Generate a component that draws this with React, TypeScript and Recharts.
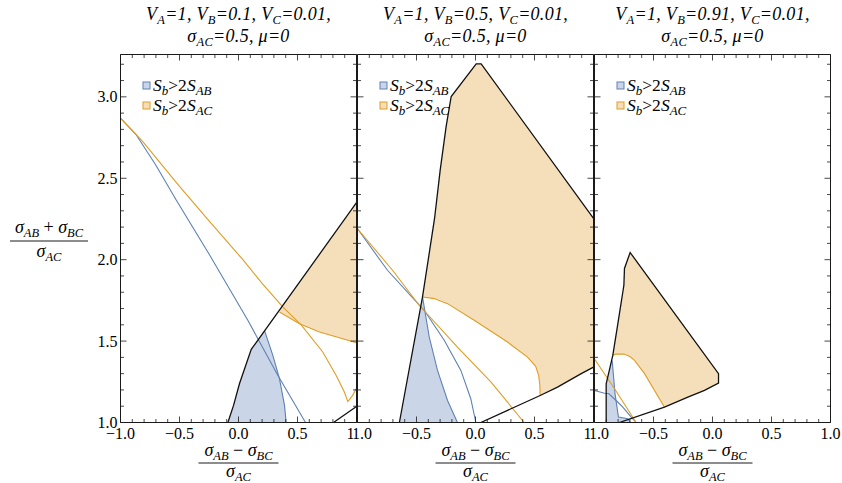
import React from 'react';
import { ComposedChart, Area, Line, XAxis, YAxis, Legend } from 'recharts';

// ---------- data ----------
const X_TICKS = [-1, -0.9, -0.8, -0.7, -0.6, -0.5, -0.4, -0.3, -0.2, -0.1, 0, 0.1, 0.2, 0.3, 0.4, 0.5, 0.6, 0.7, 0.8, 0.9, 1];
const Y_TICKS = [1, 1.1, 1.2, 1.3, 1.4, 1.5, 1.6, 1.7, 1.8, 1.9, 2, 2.1, 2.2, 2.3, 2.4, 2.5, 2.6, 2.7, 2.8, 2.9, 3, 3.1, 3.2];
const X_DOMAIN: [number, number] = [-1, 1];
const Y_DOMAIN: [number, number] = [1, 3.26];
const V_B_LABELS = ['0.1', '0.5', '0.91'];
const LEGEND_SUBS = ['AB', 'AC'];

type Pt = [number, number];
type Rg = [number, number, number];

// Panel 1 (V_B = 0.1)
const P1_BLUE_REGION: Rg[] = [[-0.09, 1, 1], [-0.042, 1, 1.105], [0.008, 1, 1.238], [0.108, 1, 1.449], [0.22, 1, 1.566], [0.291, 1, 1.412], [0.347, 1, 1.269], [0.39, 1, 1.105], [0.404, 1, 1]];
const P1_ORANGE_REGION: Rg[] = [[0.347, 1.682, 1.69], [0.517, 1.607, 1.862], [0.686, 1.556, 2.033], [0.85, 1.52, 2.198], [1.0, 1.49, 2.35]];
const P1_BLUE_EDGE: Pt[] = [[0.22, 1.566], [0.291, 1.412], [0.347, 1.269], [0.39, 1.105], [0.404, 1.0]];
const P1_BLUE_CURVE: Pt[] = [[-1, 2.87], [-0.87, 2.77], [-0.7, 2.58], [-0.528, 2.366], [-0.246, 2.03], [0.079, 1.628], [0.333, 1.29], [0.568, 1.0]];
const P1_ORANGE_EDGE: Pt[] = [[0.347, 1.679], [0.517, 1.607], [0.686, 1.556], [1.0, 1.49]];
const P1_ORANGE_CURVE: Pt[] = [[-1, 2.87], [-0.811, 2.725], [-0.5, 2.45], [-0.246, 2.235], [0.037, 2.0], [0.2, 1.855], [0.375, 1.71], [0.531, 1.6], [0.714, 1.433], [0.828, 1.289], [0.898, 1.186], [0.926, 1.129], [0.94, 1.14], [0.966, 1.165], [1.0, 1.21]];
const P1_BLACK_A: Pt[] = [[-0.09, 1.0], [-0.042, 1.105], [0.008, 1.238], [0.108, 1.449], [1.0, 2.35]];
const P1_BLACK_B: Pt[] = [[0.805, 1.0], [1.0, 1.098]];

// Panel 2 (V_B = 0.5)
const P2_BLUE_REGION: Rg[] = [[-0.645, 1, 1], [-0.449, 1, 1.771], [-0.392, 1, 1.525], [-0.322, 1, 1.32], [-0.237, 1, 1.135], [-0.153, 1, 1]];
const P2_ORANGE_REGION: Rg[] = [[-0.449, 1.771, 1.771], [-0.347, 1.762, 2.253], [-0.299, 1.752, 2.551], [-0.249, 1.735, 2.817], [-0.206, 1.716, 3.002], [0.006, 1.62, 3.203], [0.048, 1.602, 3.203], [0.271, 1.494, 2.98], [0.441, 1.402, 2.811], [0.51, 1.345, 2.742], [0.535, 1.29, 2.717], [0.545, 1.23, 2.707], [0.548, 1.166, 2.704], [0.695, 1.217, 2.557], [0.896, 1.3, 2.357], [1.0, 1.34, 2.253]];
const P2_BLUE_EDGE: Pt[] = [[-0.449, 1.771], [-0.392, 1.525], [-0.322, 1.32], [-0.237, 1.135], [-0.153, 1.0]];
const P2_BLUE_CURVE: Pt[] = [[-1, 2.19], [-0.746, 1.935], [-0.435, 1.689], [-0.265, 1.505], [-0.124, 1.32], [-0.04, 1.146], [0.003, 1.0]];
const P2_ORANGE_EDGE: Pt[] = [[-0.449, 1.771], [-0.35, 1.761], [-0.237, 1.73], [-0.011, 1.628], [0.271, 1.494], [0.441, 1.402], [0.51, 1.345], [0.535, 1.29], [0.545, 1.23], [0.548, 1.166]];
const P2_ORANGE_CURVE: Pt[] = [[-1, 2.19], [-0.703, 1.935], [-0.477, 1.72], [-0.153, 1.463], [0.13, 1.25], [0.412, 1.0]];
const P2_BLACK_A: Pt[] = [[-0.645, 1.0], [-0.449, 1.771], [-0.347, 2.253], [-0.299, 2.551], [-0.249, 2.817], [-0.206, 3.002], [0.006, 3.203], [0.048, 3.203], [1.0, 2.253]];
const P2_BLACK_B: Pt[] = [[0.045, 1.0], [0.548, 1.166], [0.695, 1.217], [0.896, 1.3], [1.0, 1.34]];

// Panel 3 (V_B = 0.91)
const P3_BLUE_REGION: Rg[] = [[-0.901, 1, 1.238], [-0.87, 1, 1.33], [-0.85, 1, 1.38], [-0.826, 1, 1.176], [-0.797, 1, 1.033], [-0.718, 1, 1.023], [-0.695, 1, 1.0]];
const P3_ORANGE_REGION: Rg[] = [[-0.845, 1.412, 1.412], [-0.802, 1.42, 1.607], [-0.751, 1.42, 1.843], [-0.746, 1.42, 1.946], [-0.731, 1.417, 1.977], [-0.698, 1.404, 2.044], [-0.661, 1.382, 2.007], [-0.576, 1.3, 1.923], [-0.407, 1.094, 1.755], [-0.209, 1.156, 1.558], [-0.068, 1.197, 1.418], [0.051, 1.242, 1.3]];
const P3_BLUE_EDGE: Pt[] = [[-0.85, 1.38], [-0.826, 1.176], [-0.797, 1.033], [-0.718, 1.023], [-0.695, 1.0]];
const P3_BLUE_CURVE: Pt[] = [[-1, 1.197], [-0.915, 1.18], [-0.88, 1.178], [-0.817, 1.135], [-0.76, 1.094], [-0.689, 1.033], [-0.647, 1.0]];
const P3_ORANGE_EDGE: Pt[] = [[-0.845, 1.412], [-0.82, 1.42], [-0.75, 1.42], [-0.7, 1.405], [-0.661, 1.382], [-0.576, 1.3], [-0.407, 1.094]];
const P3_ORANGE_CURVE: Pt[] = [[-1, 1.39], [-0.83, 1.207], [-0.647, 1.0]];
const P3_BLACK_A: Pt[] = [[-0.79, 1.0], [-0.407, 1.094], [-0.209, 1.156], [-0.068, 1.197], [0.051, 1.242], [0.051, 1.3], [-0.698, 2.044], [-0.746, 1.946], [-0.751, 1.843], [-0.802, 1.607], [-0.845, 1.412], [-0.901, 1.238], [-0.901, 1.0]];

const PANEL_DATA = [
  { blueRegion: P1_BLUE_REGION, orangeRegion: P1_ORANGE_REGION, blue: [P1_BLUE_EDGE, P1_BLUE_CURVE], orange: [P1_ORANGE_EDGE, P1_ORANGE_CURVE], black: [P1_BLACK_A, P1_BLACK_B] },
  { blueRegion: P2_BLUE_REGION, orangeRegion: P2_ORANGE_REGION, blue: [P2_BLUE_EDGE, P2_BLUE_CURVE], orange: [P2_ORANGE_EDGE, P2_ORANGE_CURVE], black: [P2_BLACK_A, P2_BLACK_B] },
  { blueRegion: P3_BLUE_REGION, orangeRegion: P3_ORANGE_REGION, blue: [P3_BLUE_EDGE, P3_BLUE_CURVE], orange: [P3_ORANGE_EDGE, P3_ORANGE_CURVE], black: [P3_BLACK_A] },
];

// ---------- layout / style ----------
const W = 842;
const H = 483;
const PANEL_LEFT = [120.5, 357.5, 594.5];
const PW = 236;
const TOP = 54.5;
const BOTTOM = 422.5;
const AX = 1; // thickness reserved by each axis
const LABEL_CLIP: [number, number][] = [[0, 354], [354, 590.3], [590.3, W]];
const FONT = '"Liberation Serif", "Times New Roman", serif';
const BLUE = '#5E81B5';
const ORANGE = '#E19C24';
const BLUE_FILL = '#cad5e7';
const ORANGE_FILL = '#f5dfba';
const FRAME = '#1a1a1a';
const EDGE = '#111111';

const pts = (a: Pt[]) => a.map(([x, y]) => ({ x, y }));
const rng = (a: Rg[]) => a.map(([x, lo, hi]) => ({ x, r: [lo, hi] }));
const fmt = (v: number) => (v < -1e-9 ? '\u2212' : '') + Math.abs(v).toFixed(1);
const isMajor = (v: number) => Math.abs(v * 2 - Math.round(v * 2)) < 1e-6;

type Tok = { t: string; sub?: boolean; up?: boolean };
function rich(toks: Tok[], size: number, subSize: number, shift: number) {
  let cur = 0;
  return toks.map((k, i) => {
    const target = k.sub ? shift : 0;
    const dy = target - cur;
    cur = target;
    return (
      <tspan key={i} dy={dy} fontSize={k.sub ? subSize : size} fontStyle={k.up ? 'normal' : 'italic'}>
        {k.t}
      </tspan>
    );
  });
}

function Clip({ from, to, children }: { from: number; to: number; children: React.ReactNode }) {
  const w = to - from;
  return (
    <svg x={from} y={0} width={w} height={H} viewBox={`${from} 0 ${w} ${H}`} overflow="hidden">
      {children}
    </svg>
  );
}

function XTick(props: any) {
  const { x, y, payload, side, showLabel, clip } = props;
  const v = payload.value as number;
  const major = isMajor(v);
  const len = major ? 6 : 3.5;
  const dir = side === 'bottom' ? -1 : 1;
  return (
    <g>
      <line x1={x} x2={x} y1={y} y2={y + dir * len} stroke={FRAME} strokeWidth={0.8} />
      {showLabel && major && (
        <Clip from={clip[0]} to={clip[1]}>
          <text x={x} y={y + 16.5} textAnchor="middle" fontFamily={FONT} fontSize={16} fill="#000">
            {fmt(v)}
          </text>
        </Clip>
      )}
    </g>
  );
}

function YTick(props: any) {
  const { x, y, payload, side, showLabel } = props;
  const v = payload.value as number;
  const major = isMajor(v);
  const len = major ? 6 : 3.5;
  const dir = side === 'left' ? 1 : -1;
  return (
    <g>
      <line x1={x} x2={x + dir * len} y1={y} y2={y} stroke={FRAME} strokeWidth={0.8} />
      {showLabel && major && (
        <text x={x - 3} y={y} dy="0.35em" textAnchor="end" fontFamily={FONT} fontSize={16} fill="#000">
          {fmt(v)}
        </text>
      )}
    </g>
  );
}

function LegendBox() {
  return (
    <svg width={110} height={44} style={{ display: 'block' }}>
      {LEGEND_SUBS.map((s, k) => (
        <g key={s}>
          <rect x={3} y={8 + k * 20} width={7} height={7} fill={k === 0 ? BLUE_FILL : ORANGE_FILL} stroke={k === 0 ? BLUE : ORANGE} strokeWidth={1} />
          <text x={13} y={16.5 + k * 20} fontFamily={FONT} fontSize={17.5} fill="#000">
            {rich([{ t: 'S' }, { t: 'b', sub: true }, { t: '>2', up: true }, { t: 'S' }, { t: s, sub: true }], 17.5, 13, 4)}
          </text>
        </g>
      ))}
    </svg>
  );
}

function Panel({ i }: { i: number }) {
  const left = PANEL_LEFT[i];
  const d = PANEL_DATA[i];
  const clip = LABEL_CLIP[i];
  const axisLine = { stroke: FRAME, strokeWidth: 1 };
  return (
    <div style={{ position: 'absolute', left: 0, top: 0 }}>
      <ComposedChart width={W} height={H} margin={{ top: TOP - AX, bottom: H - BOTTOM - AX, left: left - AX, right: W - left - PW - AX }}>
        <XAxis xAxisId="b" dataKey="x" type="number" orientation="bottom" domain={X_DOMAIN} ticks={X_TICKS} interval={0} allowDataOverflow height={AX} tickSize={0} tickMargin={0} tickLine={false} axisLine={axisLine} tick={(p: any) => <XTick {...p} side="bottom" showLabel clip={clip} />} />
        <XAxis xAxisId="t" dataKey="x" type="number" orientation="top" domain={X_DOMAIN} ticks={X_TICKS} interval={0} allowDataOverflow height={AX} tickSize={0} tickMargin={0} tickLine={false} axisLine={axisLine} tick={(p: any) => <XTick {...p} side="top" />} />
        <YAxis yAxisId="l" type="number" orientation="left" domain={Y_DOMAIN} ticks={Y_TICKS} interval={0} allowDataOverflow width={AX} tickSize={0} tickMargin={0} tickLine={false} axisLine={axisLine} tick={(p: any) => <YTick {...p} side="left" showLabel={i === 0} />} />
        <YAxis yAxisId="r" type="number" orientation="right" domain={Y_DOMAIN} ticks={Y_TICKS} interval={0} allowDataOverflow width={AX} tickSize={0} tickMargin={0} tickLine={false} axisLine={axisLine} tick={(p: any) => <YTick {...p} side="right" />} />
        <Area xAxisId="b" yAxisId="l" data={rng(d.blueRegion)} dataKey="r" type="linear" stroke="none" fill={BLUE_FILL} fillOpacity={1} dot={false} activeDot={false} isAnimationActive={false} />
        <Area xAxisId="b" yAxisId="l" data={rng(d.orangeRegion)} dataKey="r" type="linear" stroke="none" fill={ORANGE_FILL} fillOpacity={1} dot={false} activeDot={false} isAnimationActive={false} />
        {d.blue.map((a, k) => (
          <Line key={`b${k}`} xAxisId="b" yAxisId="l" data={pts(a)} dataKey="y" type="linear" stroke={BLUE} strokeWidth={1.1} dot={false} activeDot={false} isAnimationActive={false} />
        ))}
        {d.orange.map((a, k) => (
          <Line key={`o${k}`} xAxisId="b" yAxisId="l" data={pts(a)} dataKey="y" type="linear" stroke={ORANGE} strokeWidth={1.1} dot={false} activeDot={false} isAnimationActive={false} />
        ))}
        {d.black.map((a, k) => (
          <Line key={`k${k}`} xAxisId="b" yAxisId="l" data={pts(a)} dataKey="y" type="linear" stroke={EDGE} strokeWidth={1.3} dot={false} activeDot={false} isAnimationActive={false} />
        ))}
        <Legend layout="vertical" align="center" verticalAlign="middle" content={() => <LegendBox />} wrapperStyle={{ left: left + 19, top: 74, width: 110, height: 44 }} />
      </ComposedChart>
    </div>
  );
}

function Overlay() {
  const S = 18, SS = 12.5, SH = 4;
  return (
    <svg width={W} height={H} style={{ position: 'absolute', left: 0, top: 0, pointerEvents: 'none' }}>
      {PANEL_LEFT.map((l, i) => {
        const cx = l + PW / 2;
        return (
          <g key={i} fontFamily={FONT} fill="#000">
            <text x={cx} y={20} textAnchor="middle" fontSize={S} letterSpacing={0.3}>
              {rich([{ t: 'V' }, { t: 'A', sub: true }, { t: '=1, V' }, { t: 'B', sub: true }, { t: `=${V_B_LABELS[i]}, V` }, { t: 'C', sub: true }, { t: '=0.01,' }], S, SS, SH)}
            </text>
            <text x={cx} y={42} textAnchor="middle" fontSize={S} letterSpacing={0.3}>
              {rich([{ t: '\u03c3' }, { t: 'AC', sub: true }, { t: '=0.5, \u03bc=0' }], S, SS, SH)}
            </text>
            <text x={cx} y={456} textAnchor="middle" fontSize={S}>
              {rich([{ t: '\u03c3' }, { t: 'AB', sub: true }, { t: ' \u2212 ', up: true }, { t: '\u03c3' }, { t: 'BC', sub: true }], S, SS, SH)}
            </text>
            <line x1={cx - 40} x2={cx + 40} y1={463} y2={463} stroke="#000" strokeWidth={0.9} />
            <text x={cx} y={477} textAnchor="middle" fontSize={S}>
              {rich([{ t: '\u03c3' }, { t: 'AC', sub: true }], S, SS, SH)}
            </text>
          </g>
        );
      })}
      <g fontFamily={FONT} fill="#000">
        <text x={49} y={233} textAnchor="middle" fontSize={S}>
          {rich([{ t: '\u03c3' }, { t: 'AB', sub: true }, { t: ' + ', up: true }, { t: '\u03c3' }, { t: 'BC', sub: true }], S, SS, SH)}
        </text>
        <line x1={10} x2={88} y1={241} y2={241} stroke="#000" strokeWidth={0.9} />
        <text x={49} y={257} textAnchor="middle" fontSize={S}>
          {rich([{ t: '\u03c3' }, { t: 'AC', sub: true }], S, SS, SH)}
        </text>
      </g>
    </svg>
  );
}

export default function App() {
  return (
    <div style={{ position: 'absolute', left: 0, top: 0, width: W, height: H, background: '#fff', overflow: 'hidden' }}>
      {[0, 1, 2].map((i) => (
        <Panel key={i} i={i} />
      ))}
      <Overlay />
    </div>
  );
}
